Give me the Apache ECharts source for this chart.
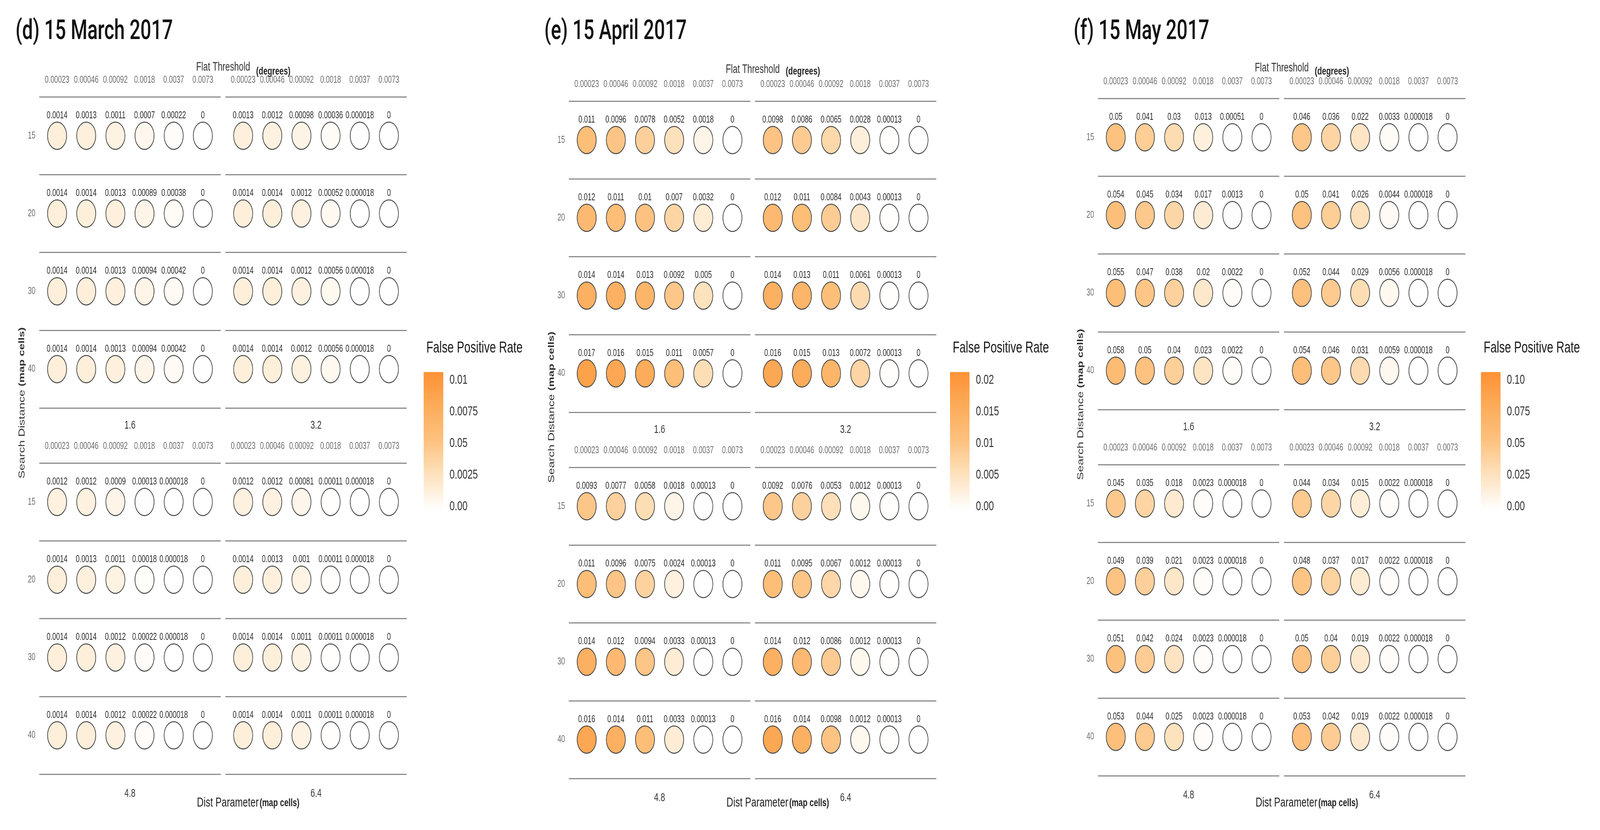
<!DOCTYPE html>
<html><head><meta charset="utf-8">
<script src="https://cdn.jsdelivr.net/npm/echarts@6.0.0/dist/echarts.min.js"></script>
<style>
html,body{margin:0;padding:0;overflow:hidden;background:#fff}
#wrap{position:absolute;left:0;top:0;width:100vw;height:100vh;overflow:hidden;background:#fff}
#chart{position:absolute;left:0;top:0;width:5873px;height:2126px;transform-origin:0 0}
</style>
</head><body><div id="wrap"><div id="chart"></div></div>
<script>
// ---- categories ----
const thresholds = ['0.00023','0.00046','0.00092','0.0018','0.0037','0.0073'];
const searchDistances = ['15','20','30','40'];
const distParams = ['1.6','3.2','4.8','6.4'];
const panelTitles = ['(d) 15 March 2017','(e) 15 April 2017','(f) 15 May 2017'];

// ---- false positive rates: rows = search distance 15,20,30,40; cols = flat thresholds ----
const march16 = [[0.0014,0.0013,0.0011,0.0007,0.00022,0],[0.0014,0.0014,0.0013,0.00089,0.00038,0],[0.0014,0.0014,0.0013,0.00094,0.00042,0],[0.0014,0.0014,0.0013,0.00094,0.00042,0]];
const march32 = [[0.0013,0.0012,0.00098,0.00036,0.000018,0],[0.0014,0.0014,0.0012,0.00052,0.000018,0],[0.0014,0.0014,0.0012,0.00056,0.000018,0],[0.0014,0.0014,0.0012,0.00056,0.000018,0]];
const march48 = [[0.0012,0.0012,0.0009,0.00013,0.000018,0],[0.0014,0.0013,0.0011,0.00018,0.000018,0],[0.0014,0.0014,0.0012,0.00022,0.000018,0],[0.0014,0.0014,0.0012,0.00022,0.000018,0]];
const march64 = [[0.0012,0.0012,0.00081,0.00011,0.000018,0],[0.0014,0.0013,0.001,0.00011,0.000018,0],[0.0014,0.0014,0.0011,0.00011,0.000018,0],[0.0014,0.0014,0.0011,0.00011,0.000018,0]];
const april16 = [[0.011,0.0096,0.0078,0.0052,0.0018,0],[0.012,0.011,0.01,0.007,0.0032,0],[0.014,0.014,0.013,0.0092,0.005,0],[0.017,0.016,0.015,0.011,0.0057,0]];
const april32 = [[0.0098,0.0086,0.0065,0.0028,0.00013,0],[0.012,0.011,0.0084,0.0043,0.00013,0],[0.014,0.013,0.011,0.0061,0.00013,0],[0.016,0.015,0.013,0.0072,0.00013,0]];
const april48 = [[0.0093,0.0077,0.0058,0.0018,0.00013,0],[0.011,0.0096,0.0075,0.0024,0.00013,0],[0.014,0.012,0.0094,0.0033,0.00013,0],[0.016,0.014,0.011,0.0033,0.00013,0]];
const april64 = [[0.0092,0.0076,0.0053,0.0012,0.00013,0],[0.011,0.0095,0.0067,0.0012,0.00013,0],[0.014,0.012,0.0086,0.0012,0.00013,0],[0.016,0.014,0.0098,0.0012,0.00013,0]];
const may16 = [[0.05,0.041,0.03,0.013,0.00051,0],[0.054,0.045,0.034,0.017,0.0013,0],[0.055,0.047,0.038,0.02,0.0022,0],[0.058,0.05,0.04,0.023,0.0022,0]];
const may32 = [[0.046,0.036,0.022,0.0033,0.000018,0],[0.05,0.041,0.026,0.0044,0.000018,0],[0.052,0.044,0.029,0.0056,0.000018,0],[0.054,0.046,0.031,0.0059,0.000018,0]];
const may48 = [[0.045,0.035,0.018,0.0023,0.000018,0],[0.049,0.039,0.021,0.0023,0.000018,0],[0.051,0.042,0.024,0.0023,0.000018,0],[0.053,0.044,0.025,0.0023,0.000018,0]];
const may64 = [[0.044,0.034,0.015,0.0022,0.000018,0],[0.048,0.037,0.017,0.0022,0.000018,0],[0.05,0.04,0.019,0.0022,0.000018,0],[0.053,0.042,0.019,0.0022,0.000018,0]];

// ---- legend scales & tick labels (bottom to top, as printed) ----
const legendMax = [0.01, 0.02, 0.10];
const legendTicksMarch = ['0.00','0.0025','0.05','0.0075','0.01'];
const legendTicksApril = ['0.00','0.005','0.01','0.015','0.02'];
const legendTicksMay = ['0.00','0.025','0.05','0.075','0.10'];

const panelData = [[march16,march32,march48,march64],[april16,april32,april48,april64],[may16,may32,may48,may64]];
const legendTicks = [legendTicksMarch, legendTicksApril, legendTicksMay];

// ---- layout ----
const FONT = 'Liberation Sans, Arial, sans-serif';
const rampColors = ['#FFFFFF','#FDE2BE','#FDC280','#FCAC5A','#FD9235'];
const panelLeft = [144, 2088, 4030];
const panelDy = [0, 11, 4];
const titleX = [57, 1998, 3941];
const legendLeft = [1555, 3487, 5436];
const FACET_W = 666, FACET_H = 797, FACET_DX = 683, FACET_DY = 938, TOP0 = 248;
const XMIN = -0.612, XMAX = 5.612;

const grid = [], xAxis = [], yAxis = [], series = [], visualMap = [], graphic = [];

for (let p = 0; p < 3; p++) {
  for (let f = 0; f < 4; f++) {
    const gi = p * 4 + f;
    const col = f % 2, row = Math.floor(f / 2);
    const left = panelLeft[p] + col * FACET_DX;
    const top = TOP0 + panelDy[p] + row * FACET_DY;
    grid.push({left: left, top: top, width: FACET_W, height: FACET_H});
    xAxis.push({
      gridIndex: gi, type: 'value', position: 'top', min: XMIN, max: XMAX,
      axisLine: {show: false}, axisTick: {show: false}, splitLine: {show: false},
      axisLabel: {
        customValues: [0,1,2,3,4,5], margin: 30, fontSize: 25, color: '#6e6e6e', fontFamily: FONT,
        formatter: v => thresholds[Math.round(v)]
      }
    });
    xAxis.push({
      gridIndex: gi, type: 'value', position: 'bottom', min: XMIN, max: XMAX,
      axisLine: {show: false}, axisTick: {show: false}, splitLine: {show: false}, axisLabel: {show: false},
      name: distParams[f], nameLocation: 'middle', nameGap: row === 0 ? 30 : 35,
      nameTextStyle: {fontSize: 29, color: '#333', fontFamily: FONT}
    });
    yAxis.push({
      gridIndex: gi, type: 'category', data: searchDistances, inverse: true, boundaryGap: true,
      axisLine: {show: false}, axisTick: {show: false},
      splitLine: {show: true, lineStyle: {color: '#8c8c8c', width: 3}},
      axisLabel: {show: col === 0, margin: 14, fontSize: 25, color: '#6e6e6e', fontFamily: FONT}
    });
    const vals = panelData[p][f];
    const data = [];
    for (let r = 0; r < searchDistances.length; r++)
      for (let c = 0; c < thresholds.length; c++)
        data.push([c, r, vals[r][c]]);
    series.push({
      type: 'scatter', xAxisIndex: 2 * gi, yAxisIndex: gi, data: data,
      symbol: 'circle', symbolSize: 70,
      itemStyle: {borderColor: '#454545', borderWidth: 2.5, opacity: 1},
      label: {
        show: true, position: 'top', distance: 3, fontSize: 25, color: '#2b2b2b', fontFamily: FONT,
        formatter: d => String(d.value[2])
      },
      emphasis: {disabled: true}
    });
  }
}

// legend label grids (scale for the colour bar tick labels)
for (let p = 0; p < 3; p++) {
  const gi = 12 + p;
  grid.push({left: legendLeft[p], top: 974, width: 72, height: 324});
  xAxis.push({gridIndex: gi, type: 'value', show: false});
  const step = legendMax[p] / 4;
  yAxis.push({
    gridIndex: gi, type: 'value', position: 'right', min: 0, max: legendMax[p], interval: step,
    axisLine: {show: false}, axisTick: {show: false}, splitLine: {show: false},
    axisLabel: {margin: 23, fontSize: 34, color: '#333', fontFamily: FONT,
      formatter: v => legendTicks[p][Math.round(v / step)]}
  });
  visualMap.push({
    type: 'continuous', show: true, min: 0, max: legendMax[p], dimension: 2,
    seriesIndex: [p*4, p*4+1, p*4+2, p*4+3],
    inRange: {color: rampColors}, calculable: false, hoverLink: false,
    orient: 'vertical', left: legendLeft[p] - 5, top: 948, padding: 5,
    itemWidth: 72, itemHeight: 352
  });
}

// texts
for (let p = 0; p < 3; p++) {
  const L = panelLeft[p], dy = panelDy[p];
  graphic.push({type: 'text', x: titleX[p], y: 82, style: {
    text: panelTitles[p], fill: '#111', font: '500 70px Roboto, "Liberation Sans", sans-serif',
    align: 'left', verticalAlign: 'middle'}});
  graphic.push({type: 'text', x: L + 675, y: 172 + dy * 0.6, style: {
    text: 'Flat Threshold', fill: '#333', font: '31px ' + FONT, align: 'center', verticalAlign: 'middle'}});
  graphic.push({type: 'text', x: L + 796, y: 183, style: {
    text: '(degrees)', fill: '#222', font: 'bold 28px ' + FONT, align: 'left', verticalAlign: 'middle'}});
  graphic.push({type: 'text', x: L + 767, y: 2057, style: {
    text: '{a|Dist Parameter} {b|(map cells)}', align: 'center', verticalAlign: 'middle',
    rich: {a: {fontSize: 34, fontFamily: FONT, fill: '#222'}, b: {fontSize: 28, fontWeight: 'bold', fontFamily: FONT, fill: '#222'}}}});
  graphic.push({type: 'text', x: L - 63, y: 1032 + dy, rotation: Math.PI / 2, style: {
    text: '{a|Search Distance }{b|(map cells)}', align: 'center', verticalAlign: 'middle',
    rich: {a: {fontSize: 31, fontFamily: FONT, fill: '#333'}, b: {fontSize: 29, fontWeight: 'bold', fontFamily: FONT, fill: '#333'}}}});
  graphic.push({type: 'text', x: legendLeft[p] + 10, y: 892, style: {
    text: 'False Positive Rate', fill: '#1a1a1a', font: '41px ' + FONT, align: 'left', verticalAlign: 'middle'}});
}

// fit the 5873x2126 design into the actual viewport
const el = document.getElementById('chart');
const sx = window.innerWidth / 5873, sy = window.innerHeight / 2126;
el.style.transform = 'scale(' + sx + ',' + sy + ')';
const dpr = Math.max(1, (window.devicePixelRatio || 1) * Math.min(sx, sy));
const chart = echarts.init(el, null, {renderer: 'canvas', width: 5873, height: 2126, devicePixelRatio: dpr});
chart.setOption({
  backgroundColor: '#ffffff', animation: false,
  grid: grid, xAxis: xAxis, yAxis: yAxis, series: series, visualMap: visualMap, graphic: graphic
});
</script>
</body></html>
